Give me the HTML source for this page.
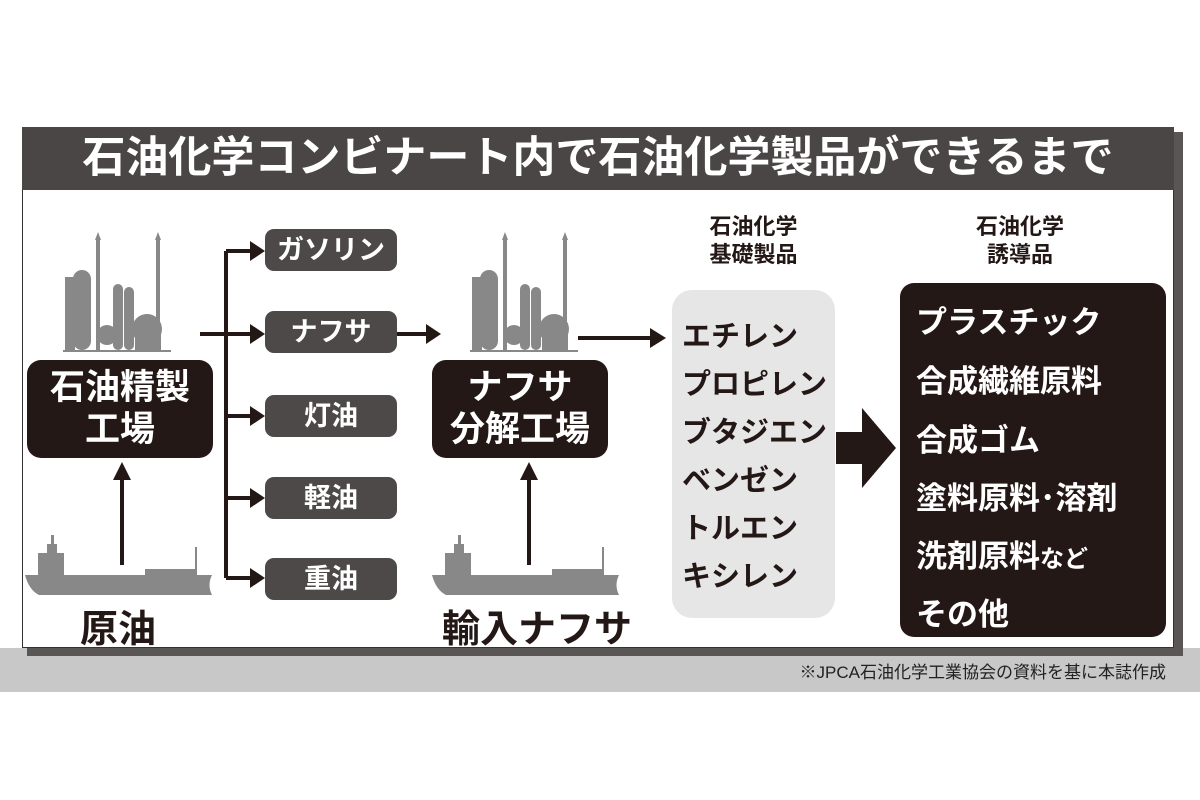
<!DOCTYPE html>
<html><head><meta charset="utf-8"><style>
body{margin:0;width:1200px;height:800px;background:#fff;position:relative;overflow:hidden;font-family:"Liberation Sans","Noto Sans CJK JP",sans-serif;font-weight:bold}
.a{position:absolute}
.t{color:#fff;text-align:center}
.pb{position:absolute;left:265px;width:132px;height:42px;background:#4d4949;border-radius:9px;color:#fff;font-size:27px;line-height:42px;text-align:center}
.bk{background:#231815;border-radius:14px}
.li{position:absolute;left:0;width:100%;font-size:29px}
</style></head><body>
<div class="a" style="left:0;top:648px;width:1200px;height:44px;background:#c8c8c8"></div>
<div class="a" style="left:27px;top:647px;width:1156px;height:9px;background:#5a5656"></div>
<div class="a" style="left:1173px;top:132px;width:10px;height:524px;background:#5a5656"></div>
<div class="a" style="left:22px;top:127px;width:1150px;height:519px;border:1px solid #333;background:#fff"></div>
<div class="a t" style="left:22px;top:127px;width:1152px;height:63px;background:#4a4646;font-size:43px;line-height:63px">石油化学コンビナート内で石油化学製品ができるまで</div>
<div class="a" style="right:34px;top:658px;font-size:17px;font-weight:normal;color:#222">※JPCA石油化学工業協会の資料を基に本誌作成</div>

<svg class="a" style="left:0;top:0" width="1200" height="800">
<defs>
<g id="ref" fill="#888">
<rect x="0" y="118" width="108" height="2"/>
<rect x="10" y="38" width="18" height="80" rx="9"/>
<rect x="2" y="45" width="10" height="73"/>
<rect x="33" y="5" width="4" height="113"/>
<path d="M32 8 l3 -8 l3 8z"/>
<rect x="50" y="52" width="10" height="66" rx="5"/>
<rect x="61" y="55" width="10" height="63" rx="5"/>
<rect x="93" y="5" width="4" height="113"/>
<path d="M92 8 l3 -8 l3 8z"/>
<circle cx="44" cy="103" r="10"/>
<circle cx="84" cy="97" r="15"/>
<rect x="72" y="100" width="26" height="18"/>
</g>
<g id="ship" fill="#888">
<path d="M0 40 L187 40 Q182 50 187 60 L14 60 Q4 55 0 40z"/>
<rect x="13" y="18" width="26" height="23"/>
<rect x="22" y="9" width="10" height="10"/>
<rect x="26" y="0" width="3" height="10"/>
<rect x="170" y="12" width="2" height="28"/>
<rect x="120" y="34" width="52" height="7"/>
</g>
</defs>
<use href="#ref" x="63" y="232"/>
<use href="#ref" x="470" y="232"/>
<use href="#ship" x="25" y="535"/>
<use href="#ship" x="432" y="535"/>
<g stroke="#231815" stroke-width="4" fill="none">
<line x1="122" y1="565" x2="122" y2="480"/>
<line x1="529" y1="565" x2="529" y2="480"/>
<line x1="226" y1="251" x2="226" y2="578"/>
<line x1="200" y1="334" x2="252" y2="334"/>
<line x1="226" y1="251" x2="252" y2="251"/>
<line x1="226" y1="416" x2="252" y2="416"/>
<line x1="226" y1="498" x2="252" y2="498"/>
<line x1="226" y1="578" x2="252" y2="578"/>
<line x1="397" y1="334" x2="428" y2="334"/>
<line x1="578" y1="338" x2="652" y2="338"/>
</g>
<g fill="#231815">
<path d="M113 480 l9 -18 l9 18z"/>
<path d="M520 480 l9 -18 l9 18z"/>
<path d="M250 241 l15 10 l-15 10z"/>
<path d="M250 324 l15 10 l-15 10z"/>
<path d="M250 406 l15 10 l-15 10z"/>
<path d="M250 488 l15 10 l-15 10z"/>
<path d="M250 568 l15 10 l-15 10z"/>
<path d="M426 324 l15 10 l-15 10z"/>
<path d="M650 328 l16 10 l-16 10z"/>
<path d="M836 432 L862 432 L862 408 L896 448 L862 488 L862 464 L836 464z"/>
</g>
</svg>

<div class="pb" style="top:229px">ガソリン</div>
<div class="pb" style="top:311px">ナフサ</div>
<div class="pb" style="top:395px">灯油</div>
<div class="pb" style="top:477px">軽油</div>
<div class="pb" style="top:558px">重油</div>

<div class="a bk t" style="left:27px;top:360px;width:186px;height:98px;font-size:35px;line-height:42px;padding-top:7px;box-sizing:border-box">石油精製<br>工場</div>
<div class="a bk t" style="left:432px;top:360px;width:176px;height:98px;font-size:35px;line-height:42px;padding-top:7px;box-sizing:border-box">ナフサ<br>分解工場</div>

<div class="a" style="left:80px;top:598px;font-size:38px;color:#231815">原油</div>
<div class="a" style="left:442px;top:598px;font-size:38px;color:#231815">輸入ナフサ</div>

<div class="a" style="left:672px;top:213px;width:163px;text-align:center;font-size:22px;line-height:28px;color:#231815">石油化学<br>基礎製品</div>
<div class="a" style="left:940px;top:213px;width:160px;text-align:center;font-size:22px;line-height:28px;color:#231815">石油化学<br>誘導品</div>

<div class="a" style="left:672px;top:290px;width:163px;height:328px;background:#e6e6e6;border-radius:20px;color:#231815">
<div class="li" style="left:10px;top:23px">エチレン</div>
<div class="li" style="left:10px;top:71px">プロピレン</div>
<div class="li" style="left:10px;top:119px">ブタジエン</div>
<div class="li" style="left:10px;top:167px">ベンゼン</div>
<div class="li" style="left:10px;top:215px">トルエン</div>
<div class="li" style="left:10px;top:263px">キシレン</div>
</div>

<div class="a bk" style="left:900px;top:283px;width:266px;height:354px;color:#fff">
<div class="li" style="left:16px;top:14px;font-size:31px">プラスチック</div>
<div class="li" style="left:16px;top:73px;font-size:31px">合成繊維原料</div>
<div class="li" style="left:16px;top:132px;font-size:31px">合成ゴム</div>
<div class="li" style="left:16px;top:190px;font-size:31px">塗料原料･溶剤</div>
<div class="li" style="left:16px;top:248px;font-size:31px">洗剤原料<span style="font-size:24px">など</span></div>
<div class="li" style="left:16px;top:306px;font-size:31px">その他</div>
</div>
</body></html>
